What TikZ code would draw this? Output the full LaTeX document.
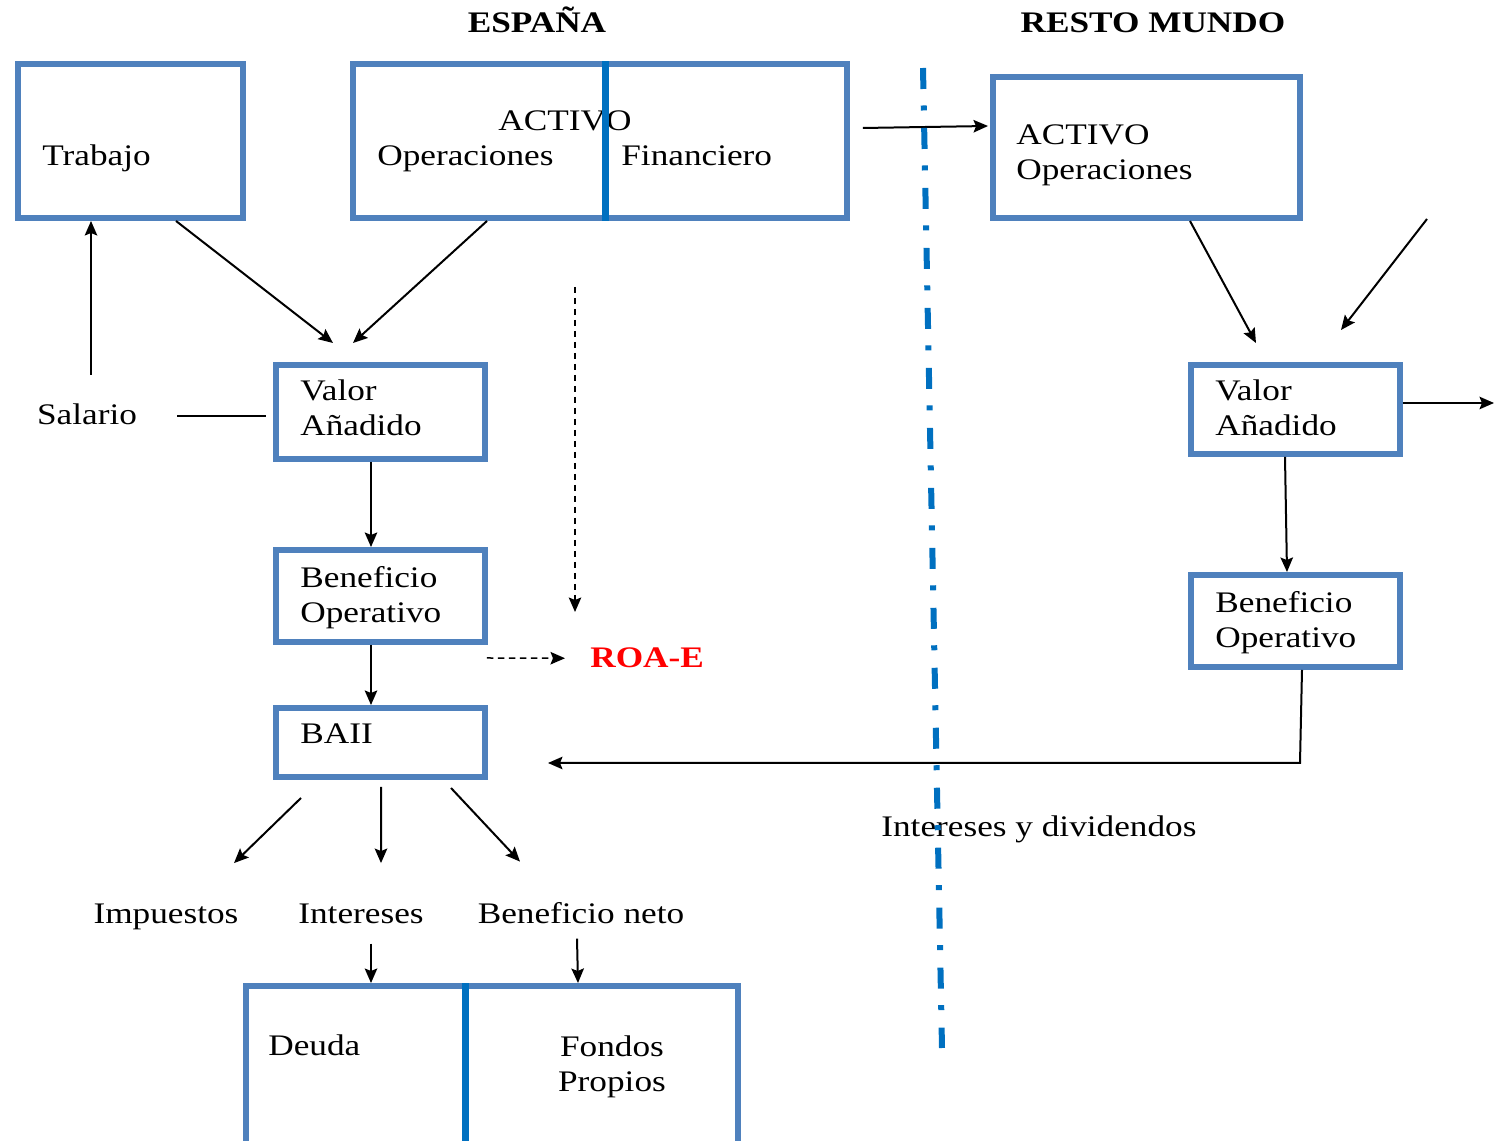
\documentclass[tikz,border=0pt]{standalone}
\usepackage{fontspec}
\setmainfont{Liberation Serif}[FakeStretch=1.18]
\usetikzlibrary{arrows.meta,calc}
\definecolor{boxblue}{HTML}{4F81BD}
\definecolor{divblue}{HTML}{0070C0}
\definecolor{roared}{HTML}{FF0000}
\tikzset{
  bx/.style={draw=boxblue, line width=0.12cm, inner sep=0pt},
  lbl/.style={font=\fontsize{17pt}{19.9pt}\selectfont, inner sep=0pt, align=left},
  hdr/.style={font=\bfseries\fontsize{17pt}{19pt}\selectfont, inner sep=0pt},
  arr/.style={line width=0.04cm, -{Stealth[length=0.29cm,width=0.25cm,inset=0.05cm]}},
  dasharr/.style={arr, line width=0.03cm, dash pattern=on 0.13cm off 0.09cm},
  plain/.style={line width=0.04cm},
  divl/.style={draw=divblue, line width=0.14cm},
  dashdot/.style={draw=divblue, line width=0.12cm, dash pattern=on 0.42cm off 0.33cm on 0.1cm off 0.35cm},
}
\begin{document}
\begin{tikzpicture}[x=0.02cm, y=-0.02cm]
\useasboundingbox (0,0) rectangle (1495,1141);
\clip (0,0) rectangle (1495,1141);

% headers
\node[hdr, anchor=base] (esp) at (537,33) {ESPAÑA};
\node[hdr, anchor=base] (rmh) at (1153,33) {RESTO MUNDO};

% Spain boxes
\node[bx, minimum width=4.5cm, minimum height=3.08cm] (trab) at (130.5,141) {};
\node[lbl, anchor=base west] (trabt) at (42,166) {Trabajo};

\node[bx, minimum width=9.88cm, minimum height=3.08cm] (act) at (600,141) {};
\node[lbl, anchor=base] (actt) at (565,131) {ACTIVO};
\node[lbl, anchor=base west] (opt) at (377,166) {Operaciones};
\node[lbl, anchor=base west] (fint) at (621,166) {Financiero};
\draw[divl] ($(act.north)+(5,0)$) -- ($(act.south)+(5,0)$);

\node[bx, minimum width=4.18cm, minimum height=1.88cm] (va) at (380.5,412) {};
\node[lbl, anchor=north west] (vat) at (300,379) {Valor\\Añadido};

\node[bx, minimum width=4.18cm, minimum height=1.84cm] (bo) at (380.5,596) {};
\node[lbl, anchor=north west] (bot) at (300,566) {Beneficio\\Operativo};

\node[bx, minimum width=4.18cm, minimum height=1.38cm] (baii) at (380.5,742.5) {};
\node[lbl, anchor=base west] (baiit) at (300,744) {BAII};

\node[bx, minimum width=9.84cm, minimum height=3.48cm] (fin) at (492,1073) {};
\draw[divl] ($(fin.north)+(-27,0)$) -- ($(fin.south)+(-27,0)$);
\node[lbl, anchor=base west] (deut) at (268,1055) {Deuda};
\node[lbl, anchor=north, align=center] (fpt) at (612,1035) {Fondos\\Propios};

% Rest of world boxes
\node[bx, minimum width=6.14cm, minimum height=2.82cm] (actrm) at (1146.5,147.5) {};
\node[lbl, anchor=north west] (actrmt) at (1016,124) {ACTIVO\\Operaciones};

\node[bx, minimum width=4.18cm, minimum height=1.78cm] (varm) at (1295.5,409.5) {};
\node[lbl, anchor=north west] (varmt) at (1215,379) {Valor\\Añadido};

\node[bx, minimum width=4.18cm, minimum height=1.84cm] (borm) at (1295.5,621) {};
\node[lbl, anchor=north west] (bormt) at (1215,591) {Beneficio\\Operativo};

% free labels
\node[lbl, anchor=base] (sal) at (87,425) {Salario};
\node[lbl, anchor=base] (imp) at (166,924) {Impuestos};
\node[lbl, anchor=base] (int) at (361,924) {Intereses};
\node[lbl, anchor=base] (bn) at (581,924) {Beneficio neto};
\node[lbl, anchor=base west] (iyd) at (881,837) {Intereses y dividendos};
\node[font=\bfseries\fontsize{17pt}{19pt}\selectfont, text=roared, inner sep=0pt, anchor=base west] (roa) at (590,668) {ROA-E};

% coordinates for free ends
\coordinate (salup) at (91,375);
\coordinate (vd1) at (575,287);
\coordinate (vd2) at (575,612);
\coordinate (dd1) at (923,68);
\coordinate (dd2) at (942,1048);
\coordinate (inrm) at (1427,219);
\coordinate (outrm) at (1494,403);

% connectors Spain
\draw[arr] (salup) -- (salup |- trab.south);
\draw[plain] ($(sal.east)+(40,1)$) -- ($(va.west |- sal.east)+(-7,1)$);
\draw[arr] ($(trab.south)+(45.5,0)$) -- ($(va.north)+(-47.5,-19)$);
\draw[arr] ($(act.south)+(-113,0)$) -- ($(va.north)+(-27.5,-19)$);
\draw[arr] ($(va.south)+(-9.5,0)$) -- ($(bo.north)+(-9.5,0)$);
\draw[arr] ($(bo.south)+(-9.5,0)$) -- ($(baii.north)+(-9.5,0)$);
\draw[dasharr] (vd1) -- (vd2);
\draw[dasharr] ($(bo.south east)+(-1,13)$) -- ($(roa.west)+(-25,0)$);
\draw[arr] ($(baii.south)+(-79.5,18)$) -- ($(imp.north)+(68,-41)$);
\draw[arr] ($(baii.south)+(0.5,7)$) -- ($(int.north)+(20,-41)$);
\draw[arr] ($(baii.south)+(70.5,8)$) -- ($(bn.north)+(-61,-41)$);
\draw[arr] ($(int.south)+(10,19)$) -- ($(fin.north)+(-121,0)$);
\draw[arr] ($(bn.south)+(-4,14)$) -- ($(fin.north)+(86,0)$);

% connectors RM
\draw[arr] ($(act.east)+(13,-13)$) -- ($(actrm.west)+(-2,-21.5)$);
\draw[arr] ($(actrm.south)+(43.5,0)$) -- ($(varm.north)+(-39.5,-19)$);
\draw[arr] (inrm) -- ($(varm.north)+(45.5,-32)$);
\draw[arr] ($(varm.east)+(0,-6.5)$) -- (outrm);
\draw[arr] ($(varm.south)+(-10.5,0)$) -- ($(borm.north)+(-8.5,0)$);
\draw[arr] ($(borm.south)+(6.5,0)$) -- ($(borm.south)+(4.5,93)$) -- ($(baii.east)+(60,20.5)$);

% border line
\draw[dashdot] (dd1) -- (dd2);
\end{tikzpicture}
\end{document}
